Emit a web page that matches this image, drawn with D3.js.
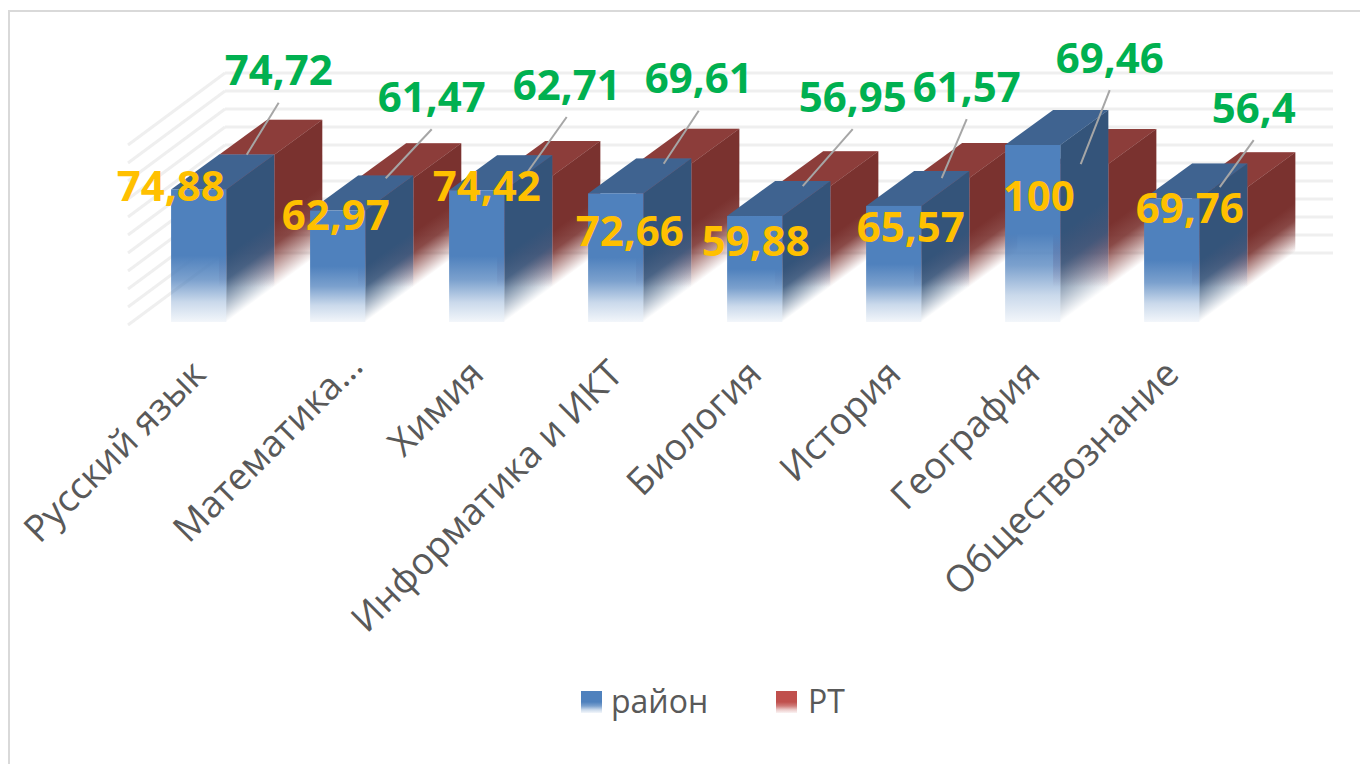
<!DOCTYPE html>
<html>
<head>
<meta charset="utf-8">
<script src="https://cdn.jsdelivr.net/npm/d3@7"></script>
<style>
  html, body { margin: 0; background: #fff; }
  svg { display: block; }
  text { font-family: "Open Sans", sans-serif; }
</style>
</head>
<body>
<svg id="chart-display" width="1360" height="764"></svg>
<script>
const categories = ["Русский язык", "Математика…", "Химия", "Информатика и ИКТ", "Биология", "История", "География", "Обществознание"];
const rayon = [74.88, 62.97, 74.42, 72.66, 59.88, 65.57, 100, 69.76];
const rt = [74.72, 61.47, 62.71, 69.61, 56.95, 61.57, 69.46, 56.4];
const rayonLabels = ["74,88", "62,97", "74,42", "72,66", "59,88", "65,57", "100", "69,76"];
const rtLabels = ["74,72", "61,47", "62,71", "69,61", "56,95", "61,57", "69,46", "56,4"];
const yTicks = [0, 10, 20, 30, 40, 50, 60, 70, 80, 90, 100];

// hand-moved data labels in the original, so offsets from the bar top
const rayonShift = [[-28, -3], [-2, 5], [10, -4], [14, 38], [1, 25], [17, 21], [6, 51], [18, 10]];
const rtShift = [[32, -84], [46, -81], [42, -91], [35, -85], [50, -89], [25, -91], [29, -106], [34, -79]];

const svg = d3.select("#chart-display");

const depth = {dx: 97, dy: -72},
    barDepth = {dx: 48, dy: -35};

const x = d3.scaleBand()
    .domain(categories)
    .range([128, 1242.4])
    .paddingInner(0.603)
    .paddingOuter(0.31);

// y is the front plane of the floor
const y = d3.scaleLinear()
    .domain([0, 100])
    .range([322, 145]);

const wallY = d3.scaleLinear()
    .domain([0, 100])
    .range([325, 145]);

const colors = {
    rayon: {front: "#4f81bd", side: "#34547a", top: "#3f6390", back: "#5b87c0"},
    rt: {front: "#c0504d", side: "#7a322f", top: "#8c3d3a", back: "#9c4a47"}
};

// gradients that fade the bottom half of each face
const defs = svg.append("defs");
function fade(id, color, stops) {
    const g = defs.append("linearGradient")
        .attr("id", id)
        .attr("x1", 0).attr("y1", 0).attr("x2", 0).attr("y2", 1);
    [0.5, 0.68, 0.85, 1].forEach((offset, i) => {
        g.append("stop")
            .attr("offset", offset)
            .attr("stop-color", color)
            .attr("stop-opacity", stops[i]);
    });
}
fade("rayon-front", colors.rayon.front, [1, 0.75, 0.3, 0.07]);
fade("rayon-side", colors.rayon.side, [1, 0.88, 0.42, 0]);
fade("rayon-back", colors.rayon.back, [0.3, 0.2, 0.08, 0]);
fade("rt-front", colors.rt.front, [1, 0.75, 0.3, 0]);
fade("rt-side", colors.rt.side, [1, 0.88, 0.42, 0]);
fade("rt-back", colors.rt.back, [0.3, 0.2, 0.08, 0]);
// legend swatch keeps a tint at the bottom like the blue front
fade("rt-swatch", colors.rt.front, [1, 0.75, 0.3, 0.07]);

// outer frame, runs off the right and bottom of the page
svg.append("rect")
    .attr("x", 9).attr("y", 11)
    .attr("width", 1400).attr("height", 800)
    .attr("fill", "#fff")
    .attr("stroke", "#d9d9d9")
    .attr("stroke-width", 2);

// walls
const wall = svg.append("g").attr("class", "walls")
    .attr("fill", "none")
    .attr("stroke", "#efefef")
    .attr("stroke-width", 3);

wall.selectAll(".side")
    .data(yTicks)
    .enter().append("line")
    .attr("x1", 128)
    .attr("y1", (d) => wallY(d))
    .attr("x2", 128 + depth.dx)
    .attr("y2", (d) => wallY(d) + depth.dy);

wall.selectAll(".back")
    .data(yTicks)
    .enter().append("line")
    .attr("x1", 128 + depth.dx)
    .attr("y1", (d) => wallY(d) + depth.dy)
    .attr("x2", 1236 + depth.dx)
    .attr("y2", (d) => wallY(d) + depth.dy);

const skew = Math.atan2(barDepth.dy, barDepth.dx) * 180 / Math.PI;

function bars(key, values, ox, oy) {
    const c = colors[key],
        w = x.bandwidth();

    const bar = svg.append("g")
        .attr("class", key)
        .attr("transform", `translate(${ox},${oy})`)
        .selectAll("g")
        .data(values.map((v, i) => ({v, cat: categories[i]})))
        .enter().append("g");

    // back face, seen through the faded part
    bar.append("rect")
        .attr("x", (d) => x(d.cat) + barDepth.dx)
        .attr("y", (d) => y(d.v) + barDepth.dy)
        .attr("width", w)
        .attr("height", (d) => y(0) - y(d.v))
        .attr("fill", `url(#${key}-back)`);

    bar.append("path")
        .attr("d", (d) => {
            const x0 = x(d.cat), y0 = y(d.v);
            return `M${x0},${y0}L${x0 + barDepth.dx},${y0 + barDepth.dy}L${x0 + w + barDepth.dx},${y0 + barDepth.dy}L${x0 + w},${y0}Z`;
        })
        .attr("fill", c.top);

    // side face is a skewed rect so the fade follows the floor
    bar.append("rect")
        .attr("transform", (d) => `translate(${x(d.cat) + w},${y(d.v)}) skewY(${skew})`)
        .attr("width", barDepth.dx)
        .attr("height", (d) => y(0) - y(d.v))
        .attr("fill", `url(#${key}-side)`);

    bar.append("rect")
        .attr("x", (d) => x(d.cat))
        .attr("y", (d) => y(d.v))
        .attr("width", w)
        .attr("height", (d) => y(0) - y(d.v))
        .attr("fill", `url(#${key}-front)`);
}

bars("rt", rt, barDepth.dx, barDepth.dy);
bars("rayon", rayon, 0, 0);

// leader lines for the РТ labels
svg.append("g").attr("class", "leaders")
    .selectAll("line")
    .data(rt)
    .enter().append("line")
    .attr("x1", (d, i) => x(categories[i]) + x.bandwidth() / 2 + barDepth.dx)
    .attr("y1", (d) => y(d) + barDepth.dy)
    .attr("x2", (d, i) => x(categories[i]) + x.bandwidth() / 2 + barDepth.dx + rtShift[i][0])
    .attr("y2", (d, i) => y(d) + barDepth.dy + rtShift[i][1] + 32)
    .attr("stroke", "#a6a6a6")
    .attr("stroke-width", 2);

const labelFont = {size: 42, weight: 700};

svg.append("g").attr("class", "rayon-labels")
    .selectAll("text")
    .data(rayon)
    .enter().append("text")
    .attr("x", (d, i) => x(categories[i]) + x.bandwidth() / 2 + rayonShift[i][0])
    .attr("y", (d, i) => y(d) + rayonShift[i][1])
    .attr("dy", ".35em")
    .attr("text-anchor", "middle")
    .style("font-size", labelFont.size + "px")
    .style("font-weight", labelFont.weight)
    .style("fill", "#ffc000")
    .text((d, i) => rayonLabels[i]);

svg.append("g").attr("class", "rt-labels")
    .selectAll("text")
    .data(rt)
    .enter().append("text")
    .attr("x", (d, i) => x(categories[i]) + x.bandwidth() / 2 + barDepth.dx + rtShift[i][0])
    .attr("y", (d, i) => y(d) + barDepth.dy + rtShift[i][1])
    .attr("dy", ".35em")
    .attr("text-anchor", "middle")
    .style("font-size", labelFont.size + "px")
    .style("font-weight", labelFont.weight)
    .style("fill", "#00b050")
    .text((d, i) => rtLabels[i]);

// category axis
const xAxis = d3.axisBottom(x).tickSize(0);
const axisG = svg.append("g")
    .attr("class", "x axis")
    .attr("transform", "translate(0,367)")
    .call(xAxis);
axisG.select(".domain").remove();
axisG.selectAll("text")
    .attr("x", 0).attr("y", 0).attr("dy", ".35em")
    .attr("text-anchor", "end")
    // the truncated label sits a bit further along in the original
    .attr("transform", (d) => d === "Математика…" ? "translate(18,-8) rotate(-45)" : "rotate(-45)")
    .style("font-family", '"Open Sans", sans-serif')
    .style("font-size", "37px")
    .style("fill", "#595959");

// legend
const legendItems = [
    {name: "район", fill: "rayon-front", x: 581, textX: 30},
    {name: "РТ", fill: "rt-swatch", x: 776, textX: 32}
];
const legend = svg.append("g").attr("class", "legend")
    .selectAll("g")
    .data(legendItems)
    .enter().append("g")
    .attr("transform", (d) => `translate(${d.x},691)`);
legend.append("rect")
    .attr("width", 21)
    .attr("height", 22)
    .attr("fill", (d) => `url(#${d.fill})`);
legend.append("text")
    .attr("x", (d) => d.textX)
    .attr("y", 22)
    .style("font-size", "32px")
    .style("fill", "#595959")
    .text((d) => d.name);
</script>
</body>
</html>
